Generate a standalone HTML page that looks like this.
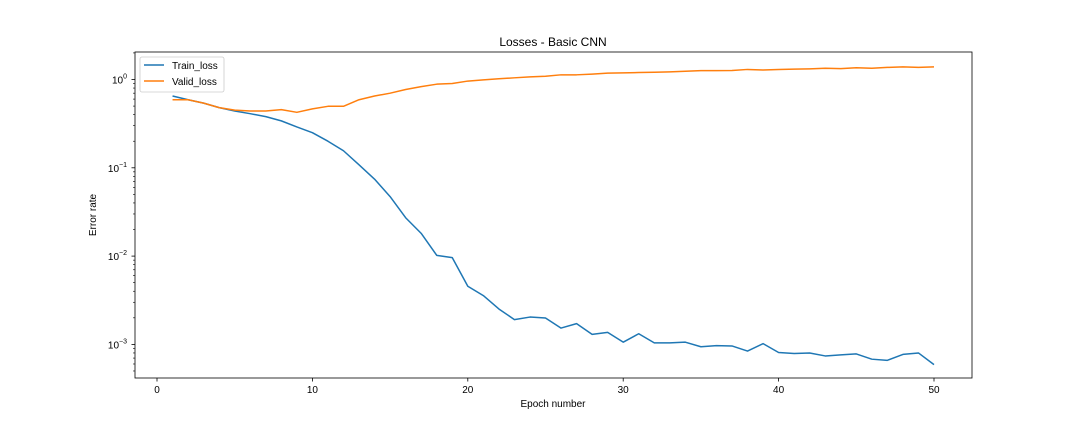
<!DOCTYPE html>
<html><head><meta charset="utf-8"><style>
body{margin:0;background:#fff;}
svg text{font-family:"Liberation Sans","DejaVu Sans",sans-serif;fill:#000;}
</style></head><body>
<svg id="chart" width="1080" height="432" xmlns="http://www.w3.org/2000/svg">
<rect width="1080" height="432" fill="#fff"/>
<text x="553" y="46" font-size="12" text-anchor="middle">Losses - Basic CNN</text>
<text x="553" y="407" font-size="10" text-anchor="middle">Epoch number</text>
<text x="96" y="215" font-size="10" text-anchor="middle" transform="rotate(-90 96 215)">Error rate</text>
<g id="ticks"></g>
<g id="lines"></g>
<rect x="135" y="52" width="837" height="326" fill="none" stroke="#000" stroke-width="0.8"/>
<g>
<rect x="140" y="57" width="84" height="35" rx="2" fill="#fff" fill-opacity="0.8" stroke="#ccc" stroke-width="0.8"/>
<line x1="144" y1="65" x2="164" y2="65" stroke="#1f77b4" stroke-width="1.5"/>
<text x="172" y="69" font-size="10">Train_loss</text>
<line x1="144" y1="81" x2="164" y2="81" stroke="#ff7f0e" stroke-width="1.5"/>
<text x="172" y="85" font-size="10">Valid_loss</text>
</g>
</svg>
<script>
const epochs = Array.from({length:50},(_,i)=>i+1);
const trainLoss = [0.65,0.59,0.54,0.48,0.44,0.41,0.38,0.34,0.29,0.25,0.20,0.156,0.108,0.0744,0.0472,0.0272,0.0181,0.0102,0.0096,0.00456,0.00357,0.00252,0.00191,0.00204,0.00199,0.00153,0.00172,0.00130,0.00137,0.00106,0.00132,0.00104,0.00104,0.00106,0.00094,0.00097,0.00096,0.00084,0.00102,0.00081,0.00079,0.00080,0.00074,0.00076,0.00078,0.00068,0.00066,0.00077,0.00080,0.00059];
const validLoss = [0.59,0.59,0.54,0.48,0.45,0.44,0.44,0.456,0.425,0.465,0.497,0.497,0.59,0.65,0.70,0.77,0.83,0.885,0.90,0.96,0.99,1.02,1.045,1.07,1.09,1.13,1.13,1.15,1.18,1.19,1.20,1.21,1.22,1.24,1.26,1.26,1.265,1.30,1.28,1.30,1.31,1.32,1.34,1.33,1.36,1.34,1.37,1.39,1.37,1.39];
const xTicks = [0,10,20,30,40,50];
const yDecades = [0,-1,-2,-3];

const NS="http://www.w3.org/2000/svg";
const X = v => 157 + v*15.54;
const Y = v => 79.5 - Math.log10(v)*88.3;
const tg=document.getElementById('ticks'), lg=document.getElementById('lines');
function mk(tag,attrs,parent){const e=document.createElementNS(NS,tag);for(const k in attrs)e.setAttribute(k,attrs[k]);parent.appendChild(e);return e;}
xTicks.forEach(t=>{
  const l=mk('line',{x1:X(t),x2:X(t),y1:378,y2:381.5,stroke:'#000','stroke-width':0.8},tg);
  
  
  const tx=mk('text',{x:X(t),y:393,'font-size':10,'text-anchor':'middle'},tg);
  tx.textContent=t;
  
  
});
yDecades.forEach(d=>{
  const y=Y(Math.pow(10,d));
  const l=mk('line',{x1:131.5,x2:135,y1:y,y2:y,stroke:'#000','stroke-width':0.8},tg);
  
  
  const tx=mk('text',{x:127,y:y+4,'font-size':10,'text-anchor':'end'},tg);
  tx.innerHTML='10<tspan dy="-5" font-size="7">'+(d<0?'\u2212'+(-d):d)+'</tspan>';
  
  
  for(let m=2;m<=9;m++){
    const yy=Y(m*Math.pow(10,d-1));
    if(yy<378&&yy>52){
      const ml=mk('line',{x1:133,x2:135,y1:yy,y2:yy,stroke:'#000','stroke-width':0.6},tg);
      
      
    }
  }
});
for(let m=2;m<=9;m++){const yy=Y(m);if(yy>52){const ml=mk('line',{x1:133,x2:135,y1:yy,y2:yy,stroke:'#000','stroke-width':0.6},tg);}}
function line(vals,color,name){
  const p=mk('polyline',{points:vals.map((v,i)=>X(epochs[i])+','+Y(v)).join(' '),fill:'none',stroke:color,'stroke-width':1.5,'stroke-linejoin':'round'},lg);
  
  
}
line(trainLoss,'#1f77b4','train-loss-line');
line(validLoss,'#ff7f0e','valid-loss-line');
</script>
</body></html>
